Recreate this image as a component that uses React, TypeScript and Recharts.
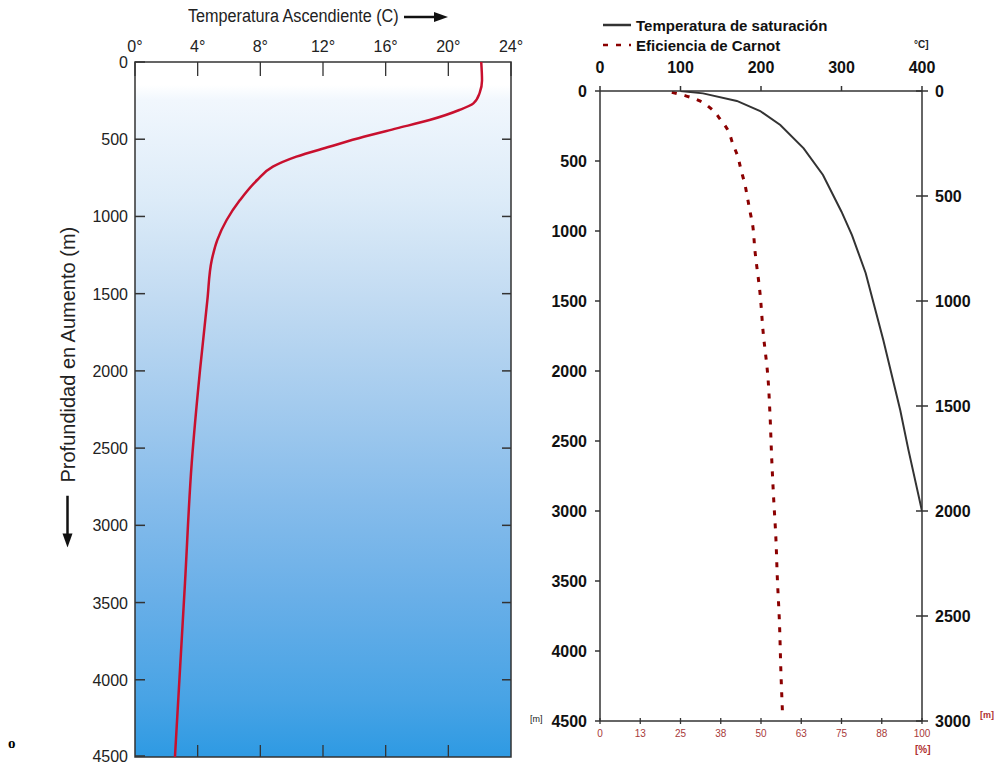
import React from 'react';
import { LineChart, Line, XAxis, YAxis, ReferenceArea, CartesianGrid, Legend } from 'recharts';

// left panel: ocean temperature profile
const profileDepth = [0, 120, 200, 268, 311, 376, 430, 484, 549, 613, 678, 764, 894, 1023, 1153, 1282, 1540, 1995, 2597, 3374, 4500];
const profileTemp = [22.1, 22.15, 22.0, 21.6, 20.7, 18.8, 16.7, 14.6, 12.4, 10.3, 8.8, 7.8, 6.7, 5.85, 5.25, 4.9, 4.62, 4.15, 3.62, 3.19, 2.55];
const depthTicks = [0, 500, 1000, 1500, 2000, 2500, 3000, 3500, 4000, 4500];
const degreeTicks = [0, 4, 8, 12, 16, 20, 24];

// right panel: saturation temperature and Carnot efficiency
const satDepth = [0, 17, 71, 143, 243, 410, 600, 862, 1029, 1300, 1780, 2280, 2560, 3000];
const satTemp = [100, 128, 170, 199, 224, 253, 277, 300, 313, 330, 352, 373, 383, 400];
const carnotDepth = [10, 33, 69, 124, 200, 279, 374, 469, 564, 667, 762, 862, 957, 1136, 1445, 1731, 2029, 2314, 2612, 2898, 3183, 3493, 3779, 4160, 4457];
const carnotPct = [22.3, 26.4, 30.8, 34.4, 37.3, 39.7, 41.2, 42.8, 43.8, 45, 45.8, 46.6, 47.4, 48.1, 49.7, 50.7, 52.1, 52.8, 53.3, 53.9, 54.6, 55.1, 55.7, 56.2, 56.7];
const celsiusTicks = [0, 100, 200, 300, 400];
const pctTicks = [0, 12.5, 25, 37.5, 50, 62.5, 75, 87.5, 100];
const rightDepthTicks = [0, 500, 1000, 1500, 2000, 2500, 3000];
const seriesNames = ['Temperatura de saturación', 'Eficiencia de Carnot'];
const seriesColors = ['#333333', '#8b0000'];
const seriesDash = ['', '5 8'];

const profileData = profileDepth.map((d, i) => ({ depth: d, temp: profileTemp[i] }));
const satData = satDepth.map((d, i) => ({ depth: d, temp: satTemp[i] }));
const carnotData = carnotDepth.map((d, i) => ({ depth: d, pct: carnotPct[i] }));

const narrow = "'Liberation Sans Narrow', 'Liberation Sans', Arial, sans-serif";
const sans = "'Liberation Sans', Arial, sans-serif";
const frame = '#333';

// left panel ticks: labels outside, short marks pointing into the plot
const DegreeTick = (props: any) => {
  const { x, y, payload } = props;
  return (
    <g>
      <line x1={x} y1={y + 10} x2={x} y2={y + 24} stroke={frame} strokeWidth={1.3} />
      <text x={x} y={y} textAnchor="middle" fontSize={16} fill="#222" fontFamily={narrow}>{`${payload.value}°`}</text>
    </g>
  );
};

const DepthTick = (props: any) => {
  const { x, y, payload } = props;
  return (
    <g>
      <line x1={x + 7} y1={y} x2={x + 17} y2={y} stroke={frame} strokeWidth={1.5} />
      <text x={x} y={y} dy={6} textAnchor="end" fontSize={16} fill="#222" fontFamily={narrow}>{payload.value}</text>
    </g>
  );
};

const BottomMark = (props: any) => {
  const { x, y } = props;
  return <line x1={x} y1={y} x2={x} y2={y - 12} stroke={frame} strokeWidth={1.3} />;
};

const SideMark = (props: any) => {
  const { x, y } = props;
  return <line x1={x - 9} y1={y} x2={x} y2={y} stroke={frame} strokeWidth={1.5} />;
};

// right panel ticks
const RightTick = (props: any) => {
  const { x, y, payload } = props;
  return (
    <g>
      <line x1={x - 19} y1={y} x2={x - 7} y2={y} stroke={frame} strokeWidth={1.5} />
      <text x={x} y={y} dy={6} fontSize={16} fontWeight="bold" fill="#111" fontFamily={sans}>
        {payload.value}
      </text>
    </g>
  );
};

const PctTick = (props: any) => {
  const { x, y, payload } = props;
  return (
    <g>
      <line x1={x} y1={y - 19} x2={x} y2={y - 13} stroke={frame} strokeWidth={1.3} />
      <text x={x} y={y} textAnchor="middle" fontSize={10} fill="#a83a3a" fontFamily={sans}>
        {Math.round(payload.value)}
      </text>
    </g>
  );
};

const LegendBox = (props: any) => {
  const items = (props.payload || [])
    .filter((p: any) => seriesNames.includes(p.value))
    .sort((a: any, b: any) => seriesNames.indexOf(a.value) - seriesNames.indexOf(b.value));
  return (
    <div style={{ fontFamily: sans }}>
      {items.map((p: any) => {
        const i = seriesNames.indexOf(p.value);
        return (
          <div key={p.value} style={{ display: 'flex', alignItems: 'center', height: 20 }}>
            <svg width={33} height={8}>
              <line x1={0} y1={4} x2={28} y2={4} stroke={seriesColors[i]} strokeWidth={2.5} strokeDasharray={seriesDash[i]} />
            </svg>
            <span style={{ fontSize: 15, fontWeight: 'bold', color: '#111' }}>{p.value}</span>
          </div>
        );
      })}
    </div>
  );
};

const OceanChart = () => (
  <LineChart layout="vertical" width={530} height={765} data={profileData} margin={{ top: 32, right: 0, bottom: 0, left: 0 }}>
    <defs>
      <linearGradient id="sea" x1="0" y1="0" x2="0" y2="1">
        <stop offset="0" stopColor="#ffffff" />
        <stop offset="0.033" stopColor="#ffffff" />
        <stop offset="0.055" stopColor="#f1f7fd" />
        <stop offset="0.2" stopColor="#dcebf8" />
        <stop offset="0.34" stopColor="#c2dbf2" />
        <stop offset="0.49" stopColor="#a4cbee" />
        <stop offset="0.63" stopColor="#86bceb" />
        <stop offset="0.77" stopColor="#69afe8" />
        <stop offset="0.92" stopColor="#47a3e5" />
        <stop offset="1" stopColor="#2e9ae3" />
      </linearGradient>
    </defs>
    <CartesianGrid xAxisId="t" yAxisId="d" horizontal={false} vertical={false} fill="url(#sea)" fillOpacity={1} />
    <XAxis xAxisId="t" type="number" orientation="top" domain={[0, 24]} ticks={degreeTicks} allowDataOverflow height={30}
      axisLine={false} tickLine={false} tickSize={0} tickMargin={10} tick={<DegreeTick />} />
    <XAxis xAxisId="b" type="number" orientation="bottom" domain={[0, 24]} ticks={degreeTicks.slice(1, -1)} allowDataOverflow
      height={8} axisLine={false} tickLine={false} tickSize={0} tickMargin={0} tick={<BottomMark />} />
    <YAxis yAxisId="d" type="number" dataKey="depth" domain={[0, 4500]} ticks={depthTicks} allowDataOverflow width={135}
      axisLine={false} tickLine={false} tickSize={0} tickMargin={7} tick={<DepthTick />} />
    <YAxis yAxisId="r" type="number" dataKey="depth" orientation="right" domain={[0, 4500]} ticks={depthTicks.slice(1, -1)}
      allowDataOverflow width={19} axisLine={false} tickLine={false} tickSize={0} tickMargin={0} tick={<SideMark />} />
    <ReferenceArea xAxisId="t" yAxisId="d" x1={0} x2={24} y1={0} y2={4500} fill="none"
      stroke={frame} strokeWidth={1.5} ifOverflow="visible" />
    {/* invisible series so the mark-only axes get a scale */}
    <Line xAxisId="b" yAxisId="r" dataKey="temp" stroke="none" dot={false} activeDot={false} legendType="none"
      isAnimationActive={false} />
    <Line xAxisId="t" yAxisId="d" dataKey="temp" type="monotone" stroke="#c8102e" strokeWidth={2.5} dot={false}
      isAnimationActive={false} />
  </LineChart>
);

const SaturationChart = () => (
  <LineChart layout="vertical" width={475} height={765} margin={{ top: 61, right: 13, bottom: 14, left: 0 }}>
    <XAxis xAxisId="c" type="number" orientation="top" domain={[0, 400]} ticks={celsiusTicks} allowDataOverflow height={30}
      stroke={frame} strokeWidth={1.5} tickSize={5} tickMargin={13}
      tick={{ fontSize: 16, fontWeight: 'bold', fill: '#111', fontFamily: sans }} />
    <XAxis xAxisId="p" type="number" orientation="bottom" domain={[0, 100]} ticks={pctTicks} allowDataOverflow height={30}
      stroke={frame} strokeWidth={1.5} tickLine={false} tickSize={0} tickMargin={16} tick={<PctTick />} />
    <YAxis yAxisId="d" type="number" dataKey="depth" domain={[0, 4500]} ticks={depthTicks} allowDataOverflow width={80}
      stroke={frame} strokeWidth={1.5} tickSize={5} tickMargin={8}
      tick={{ fontSize: 16, fontWeight: 'bold', fill: '#111', fontFamily: sans }} />
    <YAxis yAxisId="r" type="number" dataKey="depth" orientation="right" domain={[0, 3000]} ticks={rightDepthTicks}
      allowDataOverflow width={60} stroke={frame} strokeWidth={1.5} tickLine={false} tickSize={0} tickMargin={13}
      tick={<RightTick />} />
    {/* invisible series so the right depth axis gets a scale */}
    <Line data={satData} xAxisId="c" yAxisId="r" dataKey="temp" stroke="none" dot={false} activeDot={false}
      legendType="none" isAnimationActive={false} />
    <Line data={satData} name={seriesNames[0]} xAxisId="c" yAxisId="d" dataKey="temp" type="linear"
      stroke={seriesColors[0]} strokeWidth={2} dot={false} isAnimationActive={false} />
    <Line data={carnotData} name={seriesNames[1]} xAxisId="p" yAxisId="d" dataKey="pct" type="monotone"
      stroke={seriesColors[1]} strokeWidth={3} strokeDasharray={seriesDash[1]} dot={false} isAnimationActive={false} />
    <Legend layout="vertical" align="center" verticalAlign="middle" content={<LegendBox />}
      wrapperStyle={{ left: 83, top: 15, width: 'auto' }} />
  </LineChart>
);

const ArrowRight = () => (
  <svg width={44} height={12}>
    <line x1={0} y1={6} x2={32} y2={6} stroke="#111" strokeWidth={2.5} />
    <polygon points="30,1 44,6 30,11" fill="#111" />
  </svg>
);

const ArrowLeft = () => (
  <svg width={52} height={12}>
    <polygon points="0,6 14,1 14,11" fill="#111" />
    <line x1={12} y1={6} x2={52} y2={6} stroke="#111" strokeWidth={2.5} />
  </svg>
);

export default function App() {
  return (
    <div style={{ position: 'absolute', left: 0, top: 0, width: 995, height: 765, background: '#fff', overflow: 'hidden' }}>
      <div style={{ position: 'absolute', left: 0, top: 0 }}>
        <OceanChart />
      </div>
      <div style={{ position: 'absolute', left: 520, top: 0 }}>
        <SaturationChart />
      </div>
      <div style={{ position: 'absolute', left: 188, top: 6, display: 'flex', alignItems: 'center', whiteSpace: 'nowrap',
        fontFamily: narrow, fontSize: 18, color: '#222' }}>
        <span style={{ display: 'inline-block', width: 212 }}>
          <span style={{ display: 'inline-block', transform: 'scaleX(0.9)', transformOrigin: 'left center' }}>
            Temperatura Ascendiente (C)
          </span>
        </span>
        <span style={{ marginLeft: 4, display: 'flex' }}><ArrowRight /></span>
      </div>
      <div style={{ position: 'absolute', left: -94, top: 374, width: 323, height: 24, transform: 'rotate(-90deg)',
        display: 'flex', alignItems: 'center', whiteSpace: 'nowrap', fontFamily: sans, fontSize: 20, color: '#222' }}>
        <span style={{ display: 'flex' }}><ArrowLeft /></span>
        <span style={{ marginLeft: 13 }}>Profundidad en Aumento (m)</span>
      </div>
      <span style={{ position: 'absolute', left: 8, top: 735, fontFamily: 'serif', fontWeight: 'bold', fontSize: 15 }}>o</span>
      <span style={{ position: 'absolute', left: 914, top: 39, fontFamily: sans, fontWeight: 'bold', fontSize: 10, color: '#222' }}>°C]</span>
      <span style={{ position: 'absolute', left: 530, top: 714, fontFamily: sans, fontSize: 9, color: '#222' }}>[m]</span>
      <span style={{ position: 'absolute', left: 980, top: 710, fontFamily: sans, fontWeight: 'bold', fontSize: 9, color: '#b03030' }}>[m]</span>
      <span style={{ position: 'absolute', left: 915, top: 744, fontFamily: sans, fontWeight: 'bold', fontSize: 10, color: '#b03030' }}>[%]</span>
    </div>
  );
}
